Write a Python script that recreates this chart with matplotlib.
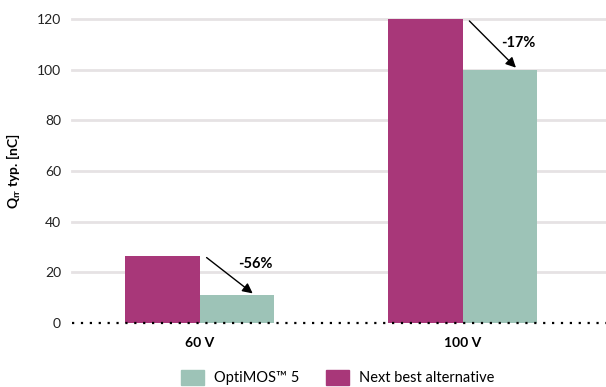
import matplotlib.pyplot as plt
import numpy as np
import matplotlib.patches as mpatches

categories = ['60 V', '100 V']
next_best = [26.5, 120]
optimos = [11, 100]
reductions = ['-56%', '-17%']
yticks = [0, 20, 40, 60, 80, 100, 120]

plt.rcParams['font.family'] = ['Lato', 'DejaVu Sans']

magenta = '#a83779'
teal = '#9dc3b7'

fig = plt.figure(figsize=(6.06, 3.87), dpi=100)
ax = fig.add_axes([0.119, 0.1654, 0.881, 0.7856])

x = np.arange(len(categories))
width = 0.283
ax.bar(x - width / 2, next_best, width=width, color=magenta, zorder=3, clip_on=False)
ax.bar(x + width / 2, optimos, width=width, color=teal, zorder=3, clip_on=False)

# reduction arrows from old bar top to new bar top
label_dy = [4.5, 0.5]
for i in range(len(categories)):
    ax.annotate('', xy=(x[i] + 0.21, optimos[i]), xytext=(x[i] + 0.018, next_best[i]),
                arrowprops=dict(arrowstyle='-|>', color='black', lw=1, mutation_scale=15),
                zorder=5, annotation_clip=False)
    ymid = (next_best[i] + optimos[i]) / 2
    ax.text(x[i] + 0.21, ymid + label_dy[i], reductions[i], ha='center', va='center',
            fontsize=10.5, fontweight='bold', zorder=6)

ax.set_xlim(-0.485, 1.545)
ax.set_ylim(0, 120)
for t in yticks[1:]:
    ax.axhline(t, color='#e6e2e4', lw=2, zorder=1, clip_on=False)
ax.axhline(0, color='black', lw=1.6, ls=(0, (1, 3)), zorder=4, clip_on=False)

ax.set_yticks(yticks)
ax.set_yticklabels([str(t) for t in yticks], fontsize=10, color='#222222')
ax.set_xticks(x)
ax.set_xticklabels(categories, fontsize=10, fontweight='bold')
ax.tick_params(length=0, axis='y', pad=8)
ax.tick_params(length=0, axis='x', pad=10)
for s in ax.spines.values():
    s.set_visible(False)

ax.set_ylabel(r'Q$_{\mathregular{rr}}$ typ. [nC]', fontsize=10, fontweight='bold', labelpad=10)

handles = [mpatches.Patch(color=teal), mpatches.Patch(color=magenta)]
fig.legend(handles=handles, labels=['OptiMOS™ 5', 'Next best alternative'],
           loc='lower center', bbox_to_anchor=(0.557, -0.03), ncol=2, frameon=False,
           fontsize=10.5, handlelength=1.6, handleheight=1.3, columnspacing=1.8, handletextpad=0.7)

plt.savefig('out.png', dpi=100)
